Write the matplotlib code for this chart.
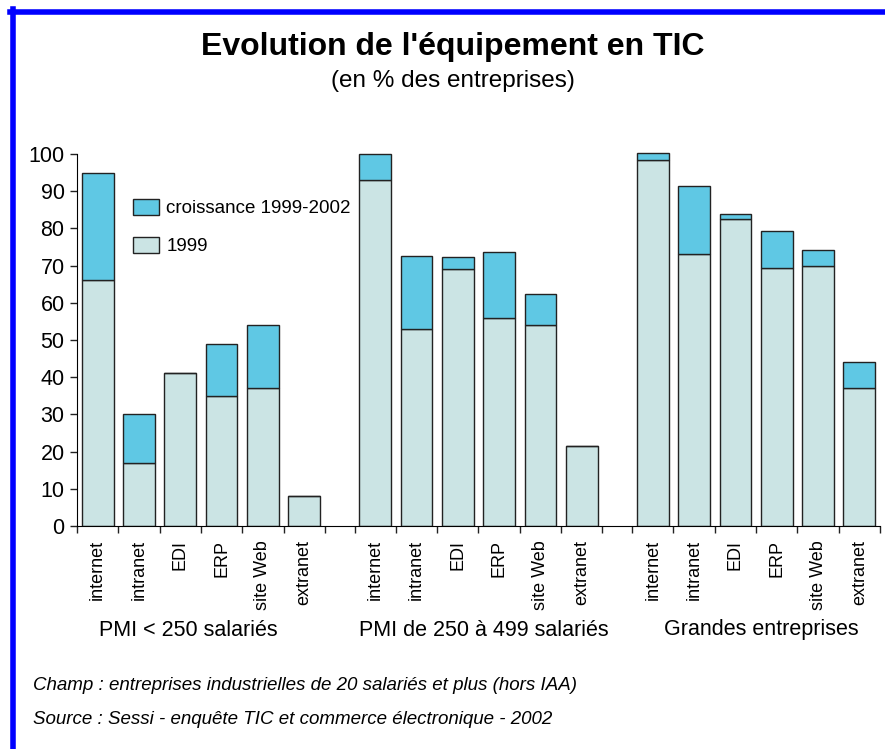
import numpy as np
import matplotlib.pyplot as plt
from matplotlib.lines import Line2D
from matplotlib.patches import Patch

# donnees (en % des entreprises)
categories = ["internet", "intranet", "EDI", "ERP", "site Web", "extranet"]
groupes = ["PMI < 250 salariés", "PMI de 250 à 499 salariés", "Grandes entreprises"]
val_1999 = [
    [66, 17, 41, 35, 37, 8],
    [93, 53, 69, 56, 54, 21.5],
    [98.5, 73, 82.5, 69.3, 70, 37],
]
val_2002 = [
    [95, 30, 41, 49, 54, 8],
    [100, 72.5, 72.2, 73.7, 62.3, 21.5],
    [100.3, 91.5, 84, 79.3, 74.1, 44.2],
]

c_crois = "#5fc8e4"
c_1999 = "#cbe4e4"
sans = ["Liberation Sans", "DejaVu Sans"]

fig = plt.figure(figsize=(8.85, 7.49), dpi=100)
ymax = 101
ax = fig.add_axes([77 / 885, 1 - 526 / 749, 803 / 885, ymax * 3.72 / 749])

n = len(categories)
gap = 0.72
largeur = 0.77
ticks = []
centres_px = [188, 484, 761]
for g in range(len(groupes)):
    start = g * (n + gap)
    x = start + np.arange(n) + 0.5
    b = np.array(val_1999[g])
    t = np.array(val_2002[g])
    ax.bar(x, b, width=largeur, color=c_1999, edgecolor="#222222", linewidth=1)
    ax.bar(x, t - b, bottom=b, width=largeur, color=c_crois,
           edgecolor="#222222", linewidth=1)
    ticks += list(start + np.arange(n + 1))
    for xi, lab in zip(x, categories):
        ax.text(xi, -3.8, lab, rotation=90, ha="center", va="top",
                fontsize=13, family=sans)
    fig.text(centres_px[g] / 885, 1 - 630 / 749, groupes[g], ha="center",
             va="center", fontsize=15.5, family=sans)

xmax = len(groupes) * n + (len(groupes) - 1) * gap
ax.set_xlim(0, xmax)
ax.set_ylim(0, ymax)
ax.set_xticks(ticks)
ax.set_xticklabels([])
ax.set_yticks(range(0, 101, 10))
ax.tick_params(axis="both", direction="out", length=5, width=1, color="#222222")
ax.tick_params(axis="y", labelsize=15.5, pad=4)
for lab in ax.get_yticklabels():
    lab.set_family(sans)
for s in ["top", "right"]:
    ax.spines[s].set_visible(False)
ax.spines["left"].set_bounds(0, 100)

leg = ax.legend(
    handles=[Patch(facecolor=c_crois, edgecolor="#222222", label="croissance 1999-2002"),
             Patch(facecolor=c_1999, edgecolor="#222222", label="1999")],
    loc="upper left", bbox_to_anchor=(48 / 803, (526 - 191) / (ymax * 3.72)),
    frameon=False, prop={"family": sans, "size": 13.5}, handlelength=1.4,
    handleheight=0.95, labelspacing=1.05, handletextpad=0.4, borderaxespad=0)

fig.text(453 / 885, 1 - 47 / 749, "Evolution de l'équipement en TIC",
         ha="center", va="center", fontsize=23, fontweight="bold", family=sans)
fig.text(453 / 885, 1 - 81 / 749, "(en % des entreprises)",
         ha="center", va="center", fontsize=17.5, family=sans)
fig.text(33 / 885, 1 - 685 / 749,
         "Champ : entreprises industrielles de 20 salariés et plus (hors IAA)",
         ha="left", va="center", fontsize=13.5, style="italic", family=sans)
fig.text(33 / 885, 1 - 720 / 749,
         "Source : Sessi - enquête TIC et commerce électronique - 2002",
         ha="left", va="center", fontsize=13.5, style="italic", family=sans)

# cadre bleu (gauche et haut)
fig.add_artist(Line2D([12.5 / 885, 12.5 / 885], [0, 1 - 9 / 749],
                      color="#0000ff", linewidth=4, transform=fig.transFigure))
fig.add_artist(Line2D([10 / 885, 1], [1 - 11.5 / 749, 1 - 11.5 / 749],
                      color="#0000ff", linewidth=4, transform=fig.transFigure))

fig.savefig("out.png", dpi=100)
